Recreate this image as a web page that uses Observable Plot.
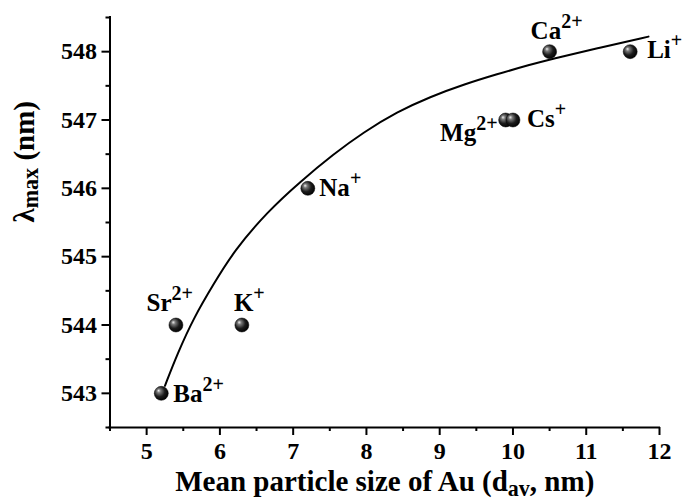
<!DOCTYPE html>
<html>
<head>
<meta charset="utf-8">
<script src="https://cdn.jsdelivr.net/npm/d3@7"></script>
<script src="https://cdn.jsdelivr.net/npm/@observablehq/plot@0.6"></script>
<style>
  body { margin: 0; background: #fff; }
</style>
</head>
<body>
<div id="chart"></div>
<script>
// ---- data ----
const ions = ["Ba^{2+}", "Sr^{2+}", "K^{+}", "Na^{+}", "Mg^{2+}", "Cs^{+}", "Ca^{2+}", "Li^{+}"];
const meanSize = [5.2, 5.4, 6.3, 7.2, 9.9, 10.0, 10.5, 11.6];
const lambdaMax = [543, 544, 544, 546, 547, 547, 548, 548];

// fitted curve
const fitX = [5.25, 5.42, 5.65, 5.92, 6.19, 6.65, 7.10, 7.55, 7.96, 8.42, 8.87, 9.33, 9.78, 10.24, 10.51, 11.19, 11.85];
const fitY = [543.11, 543.58, 544.12, 544.61, 545.08, 545.66, 546.10, 546.50, 546.82, 547.12, 547.34, 547.52, 547.67, 547.81, 547.89, 548.06, 548.22];

const xTicks = [5, 6, 7, 8, 9, 10, 11, 12];
const xMinorTicks = [4.5, 5.5, 6.5, 7.5, 8.5, 9.5, 10.5, 11.5];
const yTicks = [543, 544, 545, 546, 547, 548];
const yMinorTicks = [542.5, 543.5, 544.5, 545.5, 546.5, 547.5, 548.5];

const xTitle = "Mean particle size of Au (d_{av}, nm)";
const yTitle = "λ_{max} (nm)";

// ---- layout / style (not data) ----
const FONT = "'Liberation Serif', 'Times New Roman', Times, serif";
const TICK_FS = 24;
const labelPlacement = {
  "Ba^{2+}": ["start", 12, 9],
  "Sr^{2+}": ["end", 17, -14],
  "K^{+}":   ["start", -8, -14],
  "Na^{+}":  ["start", 11.5, 7.3],
  "Mg^{2+}": ["end", -8, 21],
  "Cs^{+}":  ["start", 14, 6.5],
  "Ca^{2+}": ["middle", 7, -13],
  "Li^{+}":  ["start", 17, 6]
};

const points = ions.map((ion, i) => ({ion, x: meanSize[i], y: lambdaMax[i]}));
const fit = fitX.map((x, i) => ({x, y: fitY[i]}));

const labelMarks = points.map(p => {
  const [anchor, dx, dy] = labelPlacement[p.ion];
  return Plot.text([p], {
    x: "x", y: "y", text: "ion",
    textAnchor: anchor, dx, dy, lineAnchor: "bottom",
    fontSize: 25, fontWeight: "bold", fontFamily: FONT, fill: "black"
  });
});

const svg = Plot.plot({
  width: 685,
  height: 500,
  marginLeft: 109.5,
  marginRight: 26,
  marginTop: 17,
  marginBottom: 73,
  style: {fontFamily: FONT, fontWeight: "bold", color: "black", background: "white", overflow: "visible"},
  x: {domain: [4.5, 12]},
  y: {domain: [542.5, 548.5]},
  marks: [
    Plot.axisX({ticks: xMinorTicks, tickSize: 4, strokeWidth: 2, tickFormat: () => "", label: null}),
    Plot.axisX({ticks: xTicks, tickSize: 8, strokeWidth: 2, tickPadding: 6.5, label: null,
      tickFormat: d => String(d), fontSize: TICK_FS, fontWeight: "bold", fontFamily: FONT}),
    Plot.axisY({ticks: yMinorTicks, tickSize: 4, strokeWidth: 2, tickFormat: () => "", label: null}),
    Plot.axisY({ticks: yTicks, tickSize: 8, strokeWidth: 2, tickPadding: 5, label: null,
      tickFormat: d => String(d), fontSize: TICK_FS, fontWeight: "bold", fontFamily: FONT}),
    Plot.ruleX([4.5], {strokeWidth: 2, strokeLinecap: "square"}),
    Plot.ruleY([542.5], {strokeWidth: 2, strokeLinecap: "square"}),
    Plot.line(fit, {x: "x", y: "y", stroke: "black", strokeWidth: 2, curve: "basis"}),
    Plot.dot(points, {x: "x", y: "y", r: 7, fill: "url(#ball)", stroke: "#000", strokeWidth: 0.5}),
    ...labelMarks,
    Plot.text([xTitle], {frameAnchor: "bottom", text: d => d, dy: 63.5, lineAnchor: "bottom",
      fontSize: 29, fontWeight: "bold", fontFamily: FONT, fill: "black"}),
    Plot.text([yTitle], {frameAnchor: "left", text: d => d, dx: -76.5, rotate: -90, lineAnchor: "bottom",
      fontSize: 29, fontWeight: "bold", fontFamily: FONT, fill: "black"})
  ]
});

// enforce tick label font size
d3.select(svg).selectAll("g[aria-label$='tick label']")
  .attr("font-size", TICK_FS).attr("font-weight", "bold").attr("font-family", FONT);

// sphere gradient
const defs = d3.select(svg).insert("defs", ":first-child");
const grad = defs.append("radialGradient").attr("id", "ball")
  .attr("cx", "0.42").attr("cy", "0.42").attr("r", "0.62")
  .attr("fx", "0.3").attr("fy", "0.3");
grad.append("stop").attr("offset", "0").attr("stop-color", "#f0f0f0");
grad.append("stop").attr("offset", "0.22").attr("stop-color", "#7a7a7a");
grad.append("stop").attr("offset", "0.6").attr("stop-color", "#1c1c1c");
grad.append("stop").attr("offset", "1").attr("stop-color", "#000");

// superscripts / subscripts
d3.select(svg).selectAll("text").each(function () {
  const raw = this.textContent;
  if (!/[\^_]\{/.test(raw)) return;
  const fsHolder = this.closest("[font-size]");
  const base = fsHolder ? parseFloat(fsHolder.getAttribute("font-size")) : 24;
  const segs = [];
  const re = /([\^_])\{([^}]*)\}/g;
  let last = 0, m;
  while ((m = re.exec(raw))) {
    if (m.index > last) segs.push({t: raw.slice(last, m.index), mode: ""});
    segs.push({t: m[2], mode: m[1]});
    last = re.lastIndex;
  }
  if (last < raw.length) segs.push({t: raw.slice(last), mode: ""});
  while (this.firstChild) this.removeChild(this.firstChild);
  let shift = 0;
  for (const s of segs) {
    const ts = d3.select(this).append("tspan").text(s.t);
    let target = 0;
    if (s.mode === "^") { target = -0.44 * base; ts.attr("font-size", (0.8 * base) + "px"); }
    else if (s.mode === "_") { target = 0.16 * base; ts.attr("font-size", (0.76 * base) + "px"); }
    const d = target - shift;
    if (d !== 0) ts.attr("dy", d);
    shift = target;
  }
});

document.getElementById("chart").appendChild(svg);
</script>
</body>
</html>
